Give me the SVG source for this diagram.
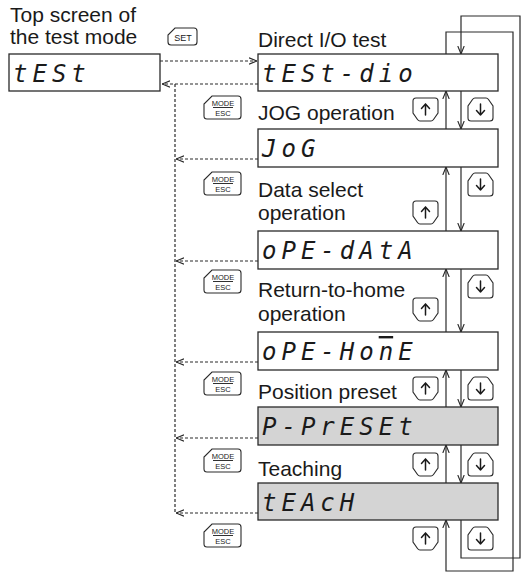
<svg xmlns="http://www.w3.org/2000/svg" width="522" height="573" viewBox="0 0 522 573">
  <style>
    .lbl { font-family: "Liberation Sans", Arial, sans-serif; font-size: 21px; fill: #1a1a1a; }
    .box { fill: #ffffff; stroke: #2a2a2a; stroke-width: 1.3; }
    .box.sel { fill: #d4d4d4; }
    .seg { font-family: "DejaVu Sans Mono", monospace; font-style: italic; font-size: 24px; letter-spacing: 5px; fill: #1a1a1a; }
    .bar { text-decoration: overline; }
    .key { fill: #ffffff; stroke: #2a2a2a; stroke-width: 1.1; }
    .keytxt { font-family: "Liberation Sans", Arial, sans-serif; fill: #1a1a1a; text-anchor: middle; }
    .glyph { fill: none; stroke: #1a1a1a; stroke-width: 1.5; stroke-linecap: round; stroke-linejoin: round; }
    .solid { fill: none; stroke: #2a2a2a; stroke-width: 1.2; }
    .dash { fill: none; stroke: #2a2a2a; stroke-width: 1.2; stroke-dasharray: 3 2; }
  </style>
  <defs>
    <marker id="arr" viewBox="0 0 10 10" refX="10" refY="5" markerWidth="8" markerHeight="8" markerUnits="userSpaceOnUse" orient="auto">
      <path d="M0,1 L10,5 L0,9" fill="none" stroke="#2a2a2a" stroke-width="1.4"/>
    </marker>
    <!-- up key: flat top, chamfered bottom -->
    <g id="key-up">
      <path class="key" d="M3,0 H22 Q25,0 25,3 V15 L20.5,21.5 Q19.5,23 18,23 H7 Q5.5,23 4.5,21.5 L0,15 V3 Q0,0 3,0 Z"/>
      <path class="glyph" d="M12.5,17 V6 M8.5,10.5 L12.5,6 L16.5,10.5"/>
    </g>
    <!-- down key: chamfered top, flat bottom -->
    <g id="key-down">
      <path class="key" d="M7,0 H18 Q19.5,0 20.5,1.5 L25,8 V20 Q25,23 22,23 H3 Q0,23 0,20 V8 L4.5,1.5 Q5.5,0 7,0 Z"/>
      <path class="glyph" d="M12.5,6 V17 M8.5,12.5 L12.5,17 L16.5,12.5"/>
    </g>
    <!-- MODE/ESC key -->
    <g id="key-mode">
      <path class="key" d="M8,0 H34 Q37,0 37,3 V20 Q37,23 34,23 H3 Q0,23 0,20 V8 Z"/>
      <text class="keytxt" x="19" y="9.5" font-size="7.5">MODE</text>
      <line x1="9" y1="11.5" x2="29" y2="11.5" stroke="#1a1a1a" stroke-width="0.9"/>
      <text class="keytxt" x="19" y="20" font-size="7.5">ESC</text>
    </g>
  </defs>

  <!-- captions -->
  <g id="captions">
    <text class="lbl" x="10" y="22">Top screen of</text>
    <text class="lbl" x="10" y="44">the test mode</text>
    <text class="lbl" x="258" y="47">Direct I/O test</text>
    <text class="lbl" x="258" y="120">JOG operation</text>
    <text class="lbl" x="258" y="197">Data select</text>
    <text class="lbl" x="258" y="220">operation</text>
    <text class="lbl" x="258" y="297">Return-to-home</text>
    <text class="lbl" x="258" y="321">operation</text>
    <text class="lbl" x="258" y="399">Position preset</text>
    <text class="lbl" x="258" y="476">Teaching</text>
  </g>

  <!-- connectors -->
  <g id="connectors">
    <!-- enter / leave the test mode -->
    <path class="dash" d="M160,61 H257" marker-end="url(#arr)"/>
    <path class="dash" d="M258,84 H162" marker-end="url(#arr)"/>
    <path class="dash" d="M175,84 V513"/>
    <path class="dash" d="M258,159 H176" marker-end="url(#arr)"/>
    <path class="dash" d="M258,261 H176" marker-end="url(#arr)"/>
    <path class="dash" d="M258,362 H176" marker-end="url(#arr)"/>
    <path class="dash" d="M258,438 H176" marker-end="url(#arr)"/>
    <path class="dash" d="M258,513 H176" marker-end="url(#arr)"/>

    <!-- up key: to the previous item -->
    <path class="solid" d="M446,129 V91" marker-end="url(#arr)"/>
    <path class="solid" d="M446,231 V167" marker-end="url(#arr)"/>
    <path class="solid" d="M446,332 V269" marker-end="url(#arr)"/>
    <path class="solid" d="M446,407 V370" marker-end="url(#arr)"/>
    <path class="solid" d="M446,483 V445" marker-end="url(#arr)"/>
    <path class="solid" d="M446,54 V32 H513 V571 H446 V520" marker-end="url(#arr)"/>

    <!-- down key: to the next item -->
    <path class="solid" d="M461,91 V129" marker-end="url(#arr)"/>
    <path class="solid" d="M461,167 V231" marker-end="url(#arr)"/>
    <path class="solid" d="M461,269 V332" marker-end="url(#arr)"/>
    <path class="solid" d="M461,370 V407" marker-end="url(#arr)"/>
    <path class="solid" d="M461,445 V483" marker-end="url(#arr)"/>
    <path class="solid" d="M461,520 V558 H520 V16 H461 V54" marker-end="url(#arr)"/>
  </g>

  <!-- displays -->
  <g id="test">
    <rect class="box" x="9" y="54" width="151" height="37"/>
    <text class="seg" x="13" y="82">tESt</text>
  </g>
  <g id="set-key">
    <path class="key" d="M175,28 H194 Q197,28 197,31 V42 Q197,45 194,45 H171 Q168,45 168,42 V35 Z"/>
    <text class="keytxt" x="183" y="40.5" font-size="9">SET</text>
  </g>
  <g id="test-dio">
    <rect class="box" x="258" y="54" width="240" height="37"/>
    <text class="seg" x="262" y="82">tESt-dio</text>
  </g>
  <g id="jog">
    <rect class="box" x="258" y="129" width="240" height="38"/>
    <text class="seg" x="262" y="157">JoG</text>
  </g>
  <g id="ope-data">
    <rect class="box" x="258" y="231" width="240" height="38"/>
    <text class="seg" x="262" y="259">oPE-dAtA</text>
  </g>
  <g id="ope-home">
    <rect class="box" x="258" y="332" width="240" height="38"/>
    <text class="seg" x="262" y="360">oPE-Ho<tspan class="bar" letter-spacing="0">n</tspan><tspan dx="5">E</tspan></text>
  </g>
  <g id="p-preset">
    <rect class="box sel" x="258" y="407" width="240" height="38"/>
    <text class="seg" x="262" y="435">P-PrESEt</text>
  </g>
  <g id="teach">
    <rect class="box sel" x="258" y="483" width="240" height="37"/>
    <text class="seg" x="262" y="511">tEAcH</text>
  </g>

  <!-- keys -->
  <g id="mode-keys">
    <use href="#key-mode" x="204" y="96"/>
    <use href="#key-mode" x="204" y="172"/>
    <use href="#key-mode" x="204" y="270"/>
    <use href="#key-mode" x="204" y="372"/>
    <use href="#key-mode" x="204" y="449"/>
    <use href="#key-mode" x="204" y="524"/>
  </g>
  <g id="up-keys">
    <use href="#key-up" x="413" y="98"/>
    <use href="#key-up" x="413" y="201"/>
    <use href="#key-up" x="413" y="298"/>
    <use href="#key-up" x="413" y="377"/>
    <use href="#key-up" x="413" y="453"/>
    <use href="#key-up" x="413" y="527"/>
  </g>
  <g id="down-keys">
    <use href="#key-down" x="468" y="98"/>
    <use href="#key-down" x="468" y="173"/>
    <use href="#key-down" x="468" y="275"/>
    <use href="#key-down" x="468" y="377"/>
    <use href="#key-down" x="468" y="453"/>
    <use href="#key-down" x="468" y="527"/>
  </g>
</svg>
